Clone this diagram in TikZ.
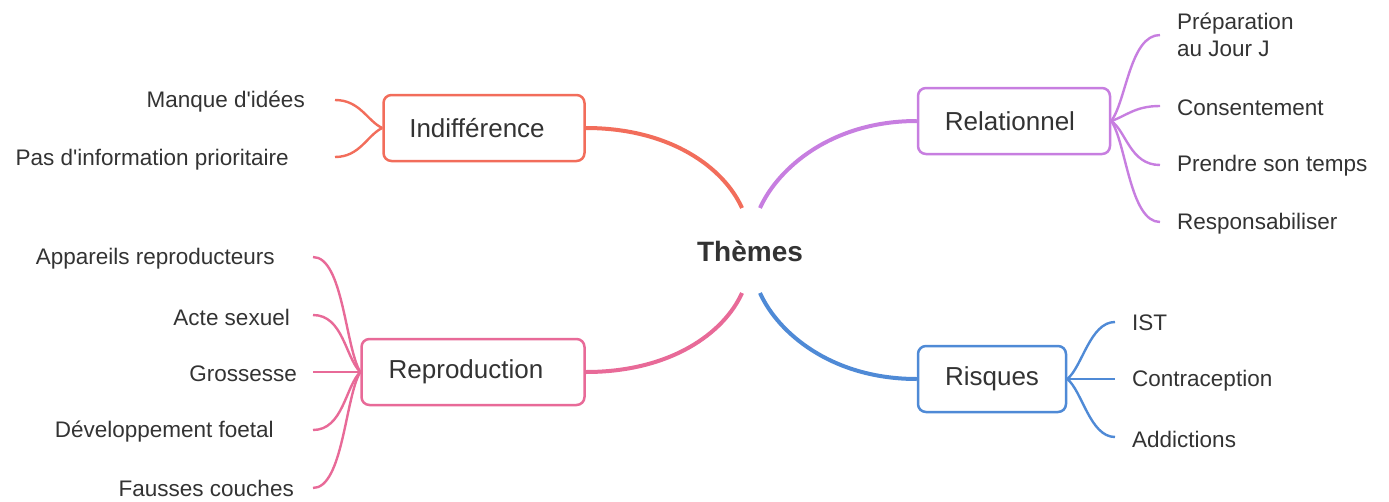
\documentclass[tikz,border=0pt]{standalone}
\usepackage{fontspec}
\setmainfont{Liberation Sans}
\definecolor{textcol}{HTML}{333333}
\definecolor{indicol}{HTML}{F26D5B}
\definecolor{relcol}{HTML}{C77EE0}
\definecolor{reprocol}{HTML}{E86A98}
\definecolor{riskcol}{HTML}{4F8AD6}
\tikzset{
  themebox/.style={draw=#1, line width=2.5pt, rounded corners=8pt, fill=white,
    minimum height=66pt, font=\fontsize{26}{30}\selectfont, text=textcol},
  leaf/.style={font=\fontsize{22.5}{27}\selectfont, text=textcol, inner sep=0pt, align=left},
  mainbranch/.style={draw=#1, line width=4pt},
  twig/.style={draw=#1, line width=2.4pt},
}
\begin{document}
\begin{tikzpicture}[x=1pt,y=-1pt]
  \useasboundingbox (0,0) rectangle (1389,501);

  % Centre
  \node[text=textcol, font=\fontsize{28}{32}\selectfont\bfseries] (themes) at (750,251) {Thèmes};
  \coordinate (t-nw) at (742,208);
  \coordinate (t-ne) at (760,208);
  \coordinate (t-sw) at (742,293);
  \coordinate (t-se) at (760,293);

  % Quatre themes
  \node[themebox=indicol, minimum width=201pt, text width=150pt, align=center] (indi) at (484,128) {\hspace*{-14pt}Indifférence};
  \node[themebox=relcol, minimum width=192pt] (rel) at (1014,121) {\hspace*{-8pt}Relationnel};
  \node[themebox=reprocol, minimum width=223pt] (repro) at (473,372) {\hspace*{-14pt}Reproduction};
  \node[themebox=riskcol, minimum width=148pt] (risk) at (992,379) {Risques};

  % Branches principales
  \draw[mainbranch=indicol] (indi.east) .. controls +(85,0) and +(-18,-40) .. (t-nw);
  \draw[mainbranch=relcol] (t-ne) .. controls +(18,-40) and +(-85,0) .. (rel.west);
  \draw[mainbranch=reprocol] (repro.east) .. controls +(85,0) and +(-18,40) .. (t-sw);
  \draw[mainbranch=riskcol] (t-se) .. controls +(18,40) and +(-85,0) .. (risk.west);

  % Indifference
  \coordinate (i1) at (335,100);
  \coordinate (i2) at (335,157);
  \draw[twig=indicol] (indi.west) .. controls +(-15,-7) and +(25,0) .. (i1);
  \draw[twig=indicol] (indi.west) .. controls +(-15,7) and +(25,0) .. (i2);
  \node[leaf, anchor=east] (l-i1) at (305,102) {Manque d\textquotesingle idées};
  \node[leaf, anchor=east] (l-i2) at (289,160) {Pas d\textquotesingle information prioritaire};

  % Relationnel
  \coordinate (r1) at (1160,35);
  \coordinate (r2) at (1160,106);
  \coordinate (r3) at (1160,165);
  \coordinate (r4) at (1160,222);
  \draw[twig=relcol] (rel.east) .. controls +(15,-20) and +(-30,0) .. (r1);
  \draw[twig=relcol] (rel.east) .. controls +(15,-5) and +(-25,0) .. (r2);
  \draw[twig=relcol] (rel.east) .. controls +(15,10) and +(-30,0) .. (r3);
  \draw[twig=relcol] (rel.east) .. controls +(15,22) and +(-30,0) .. (r4);
  \node[leaf, anchor=west] (l-r1) at (1177,35) {Préparation\\au Jour J};
  \node[leaf, anchor=west] (l-r2) at (1177,108) {Consentement};
  \node[leaf, anchor=west] (l-r3) at (1177,166) {Prendre son temps};
  \node[leaf, anchor=west] (l-r4) at (1177,224) {Responsabiliser};

  % Reproduction
  \coordinate (p1) at (313,257);
  \coordinate (p2) at (313,315);
  \coordinate (p3) at (313,372);
  \coordinate (p4) at (313,430);
  \coordinate (p5) at (313,488);
  \draw[twig=reprocol] (repro.west) .. controls +(-15,-25) and +(30,0) .. (p1);
  \draw[twig=reprocol] (repro.west) .. controls +(-15,-15) and +(30,0) .. (p2);
  \draw[twig=reprocol] (repro.west) -- (p3);
  \draw[twig=reprocol] (repro.west) .. controls +(-15,15) and +(30,0) .. (p4);
  \draw[twig=reprocol] (repro.west) .. controls +(-15,25) and +(30,0) .. (p5);
  \node[leaf, anchor=east] (l-p1) at (275,259) {Appareils reproducteurs};
  \node[leaf, anchor=east] (l-p2) at (290,317) {Acte sexuel};
  \node[leaf, anchor=east] (l-p3) at (297,374) {Grossesse};
  \node[leaf, anchor=east] (l-p4) at (274,432) {Développement foetal};
  \node[leaf, anchor=east] (l-p5) at (294,488) {Fausses couches};

  % Risques
  \coordinate (k1) at (1115,322);
  \coordinate (k2) at (1115,379);
  \coordinate (k3) at (1115,437);
  \draw[twig=riskcol] (risk.east) .. controls +(15,-12) and +(-25,0) .. (k1);
  \draw[twig=riskcol] (risk.east) -- (k2);
  \draw[twig=riskcol] (risk.east) .. controls +(15,12) and +(-25,0) .. (k3);
  \node[leaf, anchor=west] (l-k1) at (1132,323) {IST};
  \node[leaf, anchor=west] (l-k2) at (1132,381) {Contraception};
  \node[leaf, anchor=west] (l-k3) at (1132,439) {Addictions};
\end{tikzpicture}
\end{document}
